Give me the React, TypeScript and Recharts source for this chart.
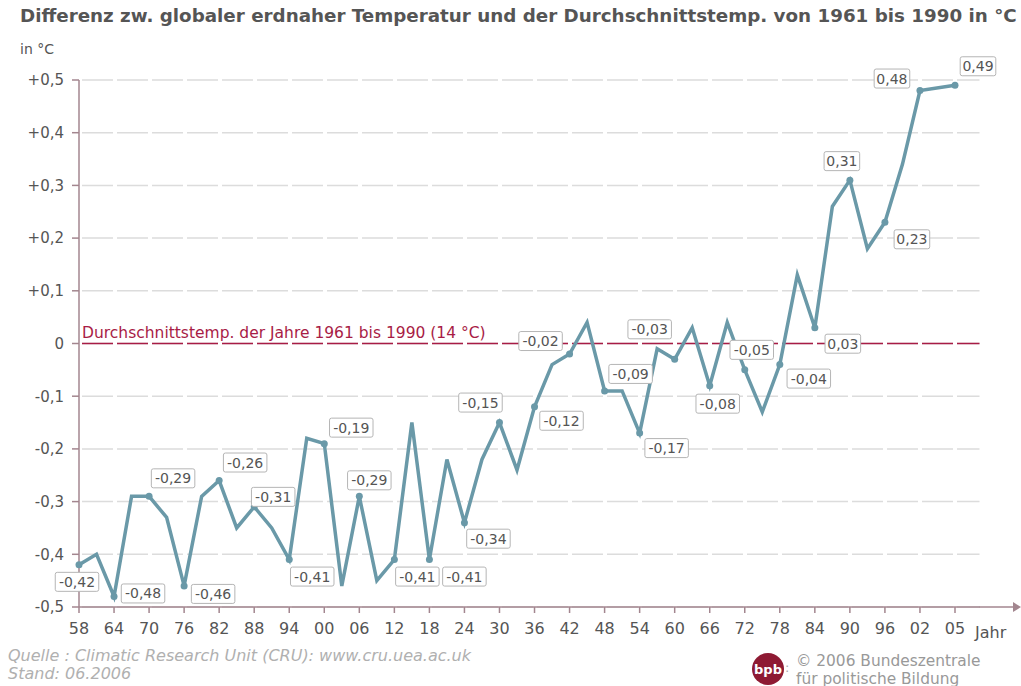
import React from "react";
import {
  LineChart,
  Line,
  XAxis,
  YAxis,
  CartesianGrid,
  ReferenceLine,
} from "recharts";

// years every 3 years, then 2005 one tick further along (empty slot before it)
const YEARS = [
  "1858", "1861", "1864", "1867", "1870", "1873", "1876", "1879", "1882", "1885",
  "1888", "1891", "1894", "1897", "1900", "1903", "1906", "1909", "1912", "1915",
  "1918", "1921", "1924", "1927", "1930", "1933", "1936", "1939", "1942", "1945",
  "1948", "1951", "1954", "1957", "1960", "1963", "1966", "1969", "1972", "1975",
  "1978", "1981", "1984", "1987", "1990", "1993", "1996", "1999", "2002", "", "2005",
];

const DIFF = [
  -0.42, -0.4, -0.48, -0.29, -0.29, -0.33, -0.46, -0.29, -0.26, -0.35,
  -0.31, -0.35, -0.41, -0.18, -0.19, -0.46, -0.29, -0.45, -0.41, -0.15,
  -0.41, -0.22, -0.34, -0.22, -0.15, -0.24, -0.12, -0.04, -0.02, 0.04,
  -0.09, -0.09, -0.17, -0.01, -0.03, 0.03, -0.08, 0.04, -0.05, -0.13,
  -0.04, 0.13, 0.03, 0.26, 0.31, 0.18, 0.23, 0.34, 0.48, null, 0.49,
];

const Y_TICKS = [-0.5, -0.4, -0.3, -0.2, -0.1, 0, 0.1, 0.2, 0.3, 0.4, 0.5];

// where each value box sits relative to its point (dx, dy of box centre)
const LABEL_OFFSETS: Record<number, [number, number]> = {
  0: [-2, 17], 2: [29, -3], 4: [24, -18], 6: [29, 8], 8: [26, -18],
  10: [19, -10], 12: [23, 17], 14: [27, -16], 16: [10, -16], 18: [23, 17],
  20: [35, 17], 22: [24, 16], 24: [-19, -20], 26: [27, 14], 28: [-29, -13],
  30: [26, -17], 32: [27, 15], 34: [-25, -30], 36: [8, 18], 38: [7, -20],
  40: [29, 14], 42: [28, 16], 44: [-8, -19], 46: [27, 17], 48: [-28, -12],
  50: [23, -19],
};

const LINE_COLOR = "#6a99a8";
const AXIS_COLOR = "#a3868f";
const CRIMSON = "#a81c46";
const FONT = "'DejaVu Sans', Verdana, sans-serif";

const data = YEARS.map((year, i) => ({ year, value: DIFF[i] }));

const fmt = (v: number) => v.toFixed(2).replace(".", ",");
const fmtTick = (v: number) => {
  if (Math.abs(v) < 1e-9) return "0";
  const s = Math.abs(v).toFixed(1).replace(".", ",");
  return v > 0 ? `+${s}` : `-${s}`;
};

const renderDot = (props: any) => {
  const { cx, cy, index, value } = props;
  const off = LABEL_OFFSETS[index];
  if (!off || cy == null || value == null) return <g key={`d-${index}`} />;
  const text = fmt(value);
  const w = text.length * 7.9 + 4;
  const h = 19;
  const bx = cx + off[0];
  const by = cy + off[1];
  return (
    <g key={`d-${index}`}>
      <circle cx={cx} cy={cy} r={3.5} fill={LINE_COLOR} />
      <rect
        x={bx - w / 2}
        y={by - h / 2}
        width={w}
        height={h}
        rx={2}
        fill="#fff"
        stroke="#b5b5b5"
        strokeWidth={1}
      />
      <text
        x={bx}
        y={by + 5}
        textAnchor="middle"
        fontSize={14}
        fontFamily={FONT}
        fill="#555"
      >
        {text}
      </text>
    </g>
  );
};

const App = () => {
  return (
    <div
      style={{
        position: "absolute",
        left: 0,
        top: 0,
        width: 1021,
        height: 686,
        background: "#fff",
        fontFamily: FONT,
      }}
    >
      <div
        style={{
          position: "absolute",
          left: 20,
          top: 5,
          fontSize: 18.3,
          fontWeight: "bold",
          color: "#555",
          whiteSpace: "nowrap",
        }}
      >
        Differenz zw. globaler erdnaher Temperatur und der Durchschnittstemp. von 1961 bis 1990 in °C
      </div>
      <div style={{ position: "absolute", left: 20, top: 41, fontSize: 14, color: "#555" }}>
        in °C
      </div>

      <LineChart
        width={1021}
        height={686}
        data={data}
        margin={{ top: 80, right: 41.5, bottom: 49, left: 19 }}
      >
        <CartesianGrid
          vertical={false}
          stroke="#dcdcdc"
          strokeWidth={1.5}
          strokeDasharray="0 3 31 1"
        />
        <XAxis
          dataKey="year"
          interval={1}
          tickFormatter={(y: string) => y.slice(2)}
          tick={{ fontSize: 16, fill: "#555", fontFamily: FONT }}
          axisLine={{ stroke: AXIS_COLOR, strokeWidth: 1.5 }}
          tickLine={{ stroke: AXIS_COLOR, strokeWidth: 1.5 }}
          tickSize={6}
          tickMargin={10}
          padding={{ left: 0, right: 24.5 }}
          height={30}
        />
        <YAxis
          domain={[-0.5, 0.5]}
          ticks={Y_TICKS}
          tickFormatter={fmtTick}
          tick={{ fontSize: 15, fill: "#555", fontFamily: FONT }}
          axisLine={{ stroke: AXIS_COLOR, strokeWidth: 1.5 }}
          tickLine={{ stroke: AXIS_COLOR, strokeWidth: 1.5 }}
          tickSize={7}
          tickMargin={8}
          width={60}
        />
        <ReferenceLine
          y={0}
          stroke={CRIMSON}
          strokeWidth={1.5}
          strokeDasharray="0 3 31 1"
          label={(p: any) => (
            <text
              x={p.viewBox.x + 3}
              y={p.viewBox.y - 6}
              fontSize={15.5}
              fontFamily={FONT}
              fill={CRIMSON}
            >
              Durchschnittstemp. der Jahre 1961 bis 1990 (14 °C)
            </text>
          )}
        />
        <Line
          type="linear"
          dataKey="value"
          stroke={LINE_COLOR}
          strokeWidth={3.5}
          connectNulls
          dot={renderDot}
          activeDot={false}
          isAnimationActive={false}
        />
      </LineChart>

      {/* x axis continues as arrow */}
      <svg
        style={{ position: "absolute", left: 0, top: 0, pointerEvents: "none" }}
        width={1021}
        height={686}
      >
        <line x1={979} y1={607} x2={1015} y2={607} stroke={AXIS_COLOR} strokeWidth={1.5} />
        <polygon points="1013,602 1021,607 1013,612" fill={AXIS_COLOR} />
        <text x={975} y={638} fontSize={16} fill="#555" fontFamily={FONT}>
          Jahr
        </text>
        <circle cx={768} cy={669} r={16} fill="#8e1a33" />
        <text
          x={768}
          y={674}
          textAnchor="middle"
          fontSize={13}
          fontWeight="bold"
          fill="#fff"
          fontFamily={FONT}
        >
          bpb
        </text>
        <text x={785} y={672} fontSize={13} fill="#aaa" fontFamily={FONT}>
          :
        </text>
      </svg>

      <div
        style={{
          position: "absolute",
          left: 8,
          top: 647,
          fontSize: 16,
          fontStyle: "italic",
          color: "#b0b0b0",
          lineHeight: "18px",
        }}
      >
        Quelle : Climatic Research Unit (CRU): www.cru.uea.ac.uk
        <br />
        Stand: 06.2006
      </div>
      <div
        style={{
          position: "absolute",
          left: 796,
          top: 652,
          fontSize: 15.4,
          color: "#999",
          lineHeight: "18px",
        }}
      >
        © 2006 Bundeszentrale
        <br />
        für politische Bildung
      </div>
    </div>
  );
};

export default App;
